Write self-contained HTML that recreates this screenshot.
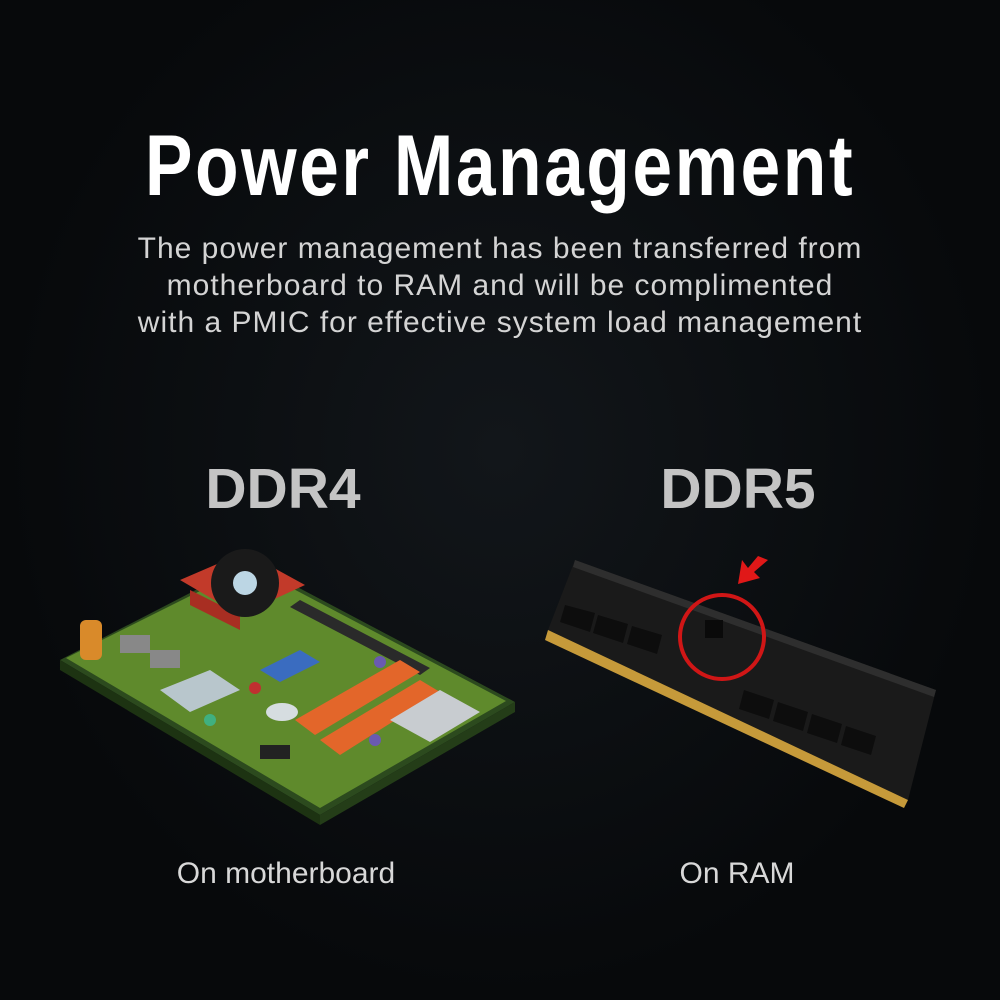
<!DOCTYPE html>
<html><head><meta charset="utf-8"><style>
html,body{margin:0;padding:0;}
body{width:1000px;height:1000px;background:radial-gradient(ellipse at 50% 45%,#12161a 0%,#07090b 70%);position:relative;overflow:hidden;font-family:"Liberation Sans",sans-serif;}
.t{position:absolute;left:0;width:1000px;text-align:center;}
#title{top:118px;font-weight:bold;font-size:86px;color:#fff;letter-spacing:3px;line-height:96px;transform:scaleX(0.83);transform-origin:500px 0;}
#sub{top:230px;font-size:30px;color:#d4d4d4;line-height:37px;letter-spacing:1px;}
.h{position:absolute;top:456px;font-weight:bold;font-size:57px;color:#c4c4c4;width:300px;text-align:center;}
.l{position:absolute;top:857px;font-size:30px;color:#d8d8d8;width:360px;text-align:center;}
</style></head><body>
<div class="t" id="title">Power Management</div>
<div class="t" id="sub">The power management has been transferred from<br>motherboard to RAM and will be complimented<br>with a PMIC for effective system load management</div>
<div class="h" style="left:133px">DDR4</div>
<div class="h" style="left:588px">DDR5</div>
<div class="l" style="left:106px">On motherboard</div>
<div class="l" style="left:557px">On RAM</div>
<svg width="1000" height="1000" style="position:absolute;left:0;top:0">
<!-- motherboard -->
<polygon points="60,660 250,562 515,702 320,815" fill="#2c4a1e"/>
<polygon points="60,660 320,815 320,825 60,670" fill="#1d3312"/>
<polygon points="320,815 515,702 515,712 320,825" fill="#243d18"/>
<polygon points="66,658 250,566 506,701 320,808" fill="#5f8a2c"/>
<polygon points="300,600 430,668 420,675 290,607" fill="#2a2a2a"/>
<rect x="80" y="620" width="22" height="40" rx="6" fill="#d98a2a"/>
<polygon points="180,580 245,552 305,585 240,615" fill="#c23a2a"/>
<polygon points="190,590 240,615 240,630 190,605" fill="#a82e22"/>
<circle cx="245" cy="583" r="34" fill="#1a1a1a"/>
<circle cx="245" cy="583" r="12" fill="#bcd6e4"/>
<polygon points="160,690 210,670 240,690 190,712" fill="#b8c6cc"/>
<polygon points="295,720 400,660 420,672 315,735" fill="#e3662a"/>
<polygon points="320,740 420,680 440,692 340,755" fill="#e3662a"/>
<polygon points="390,720 440,690 480,712 430,742" fill="#c8ccd0"/>
<polygon points="260,670 300,650 320,662 280,682" fill="#3a6cc0"/>
<ellipse cx="282" cy="712" rx="16" ry="9" fill="#d6dde0"/>
<rect x="120" y="635" width="30" height="18" fill="#888"/>
<rect x="150" y="650" width="30" height="18" fill="#888"/>
<rect x="260" y="745" width="30" height="14" fill="#222"/>
<circle cx="380" cy="662" r="6" fill="#6a5ab0"/>
<circle cx="375" cy="740" r="6" fill="#6a5ab0"/>
<circle cx="255" cy="688" r="6" fill="#c03030"/>
<circle cx="210" cy="720" r="6" fill="#40b080"/>
<!-- RAM -->
<polygon points="548,630 575,560 936,690 908,800" fill="#1a1a1a"/>
<polygon points="575,560 936,690 934,697 573,567" fill="#2e2e2e"/>
<polygon points="548,630 908,800 904,808 545,640" fill="#c69a3a"/>
<g fill="#0d0d0d">
<polygon points="565,605 595,613 590,632 560,622"/>
<polygon points="598,615 628,624 623,643 593,633"/>
<polygon points="632,626 662,635 657,654 627,644"/>
<polygon points="744,690 774,700 769,719 739,709"/>
<polygon points="778,702 808,712 803,731 773,721"/>
<polygon points="812,714 842,724 837,743 807,733"/>
<polygon points="846,726 876,736 871,755 841,745"/>
</g>
<rect x="705" y="620" width="18" height="18" fill="#0a0a0a"/>
<circle cx="722" cy="637" r="42" fill="none" stroke="#d01616" stroke-width="4"/>
<polygon points="768,560 758,556 748,568 742,560 738,584 760,578 754,572" fill="#e01818"/>
</svg>
</body></html>
